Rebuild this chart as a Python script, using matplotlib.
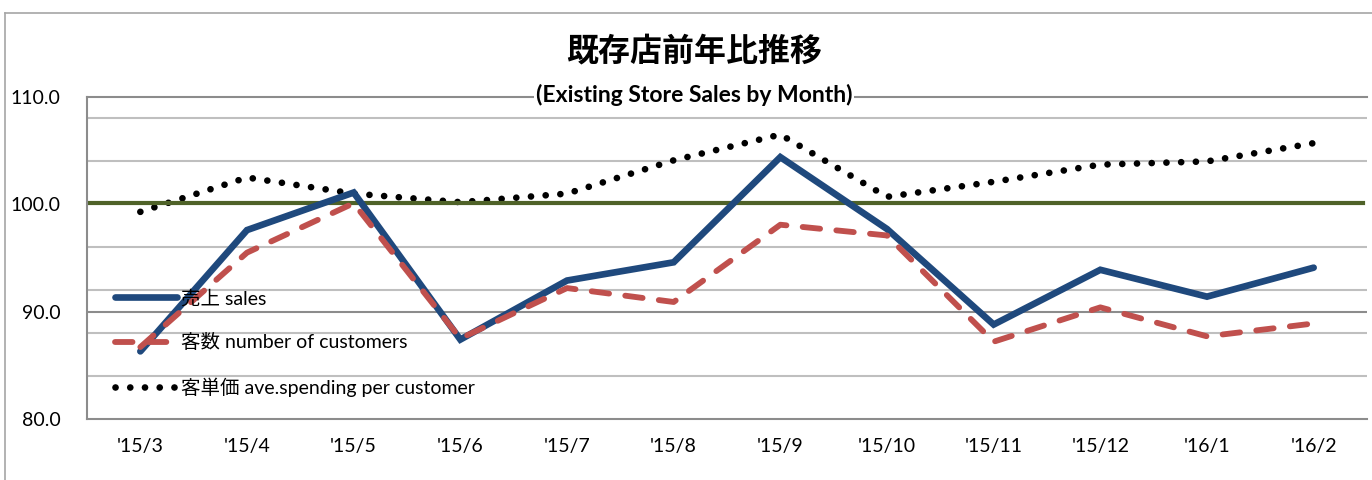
import matplotlib.pyplot as plt
from matplotlib.lines import Line2D

plt.rcParams['font.family'] = ['Lato', 'Noto Sans CJK JP', 'DejaVu Sans']

months = ["'15/3", "'15/4", "'15/5", "'15/6", "'15/7", "'15/8",
          "'15/9", "'15/10", "'15/11", "'15/12", "'16/1", "'16/2"]
sales = [86.3, 97.6, 101.1, 87.4, 92.9, 94.6, 104.4, 97.7, 88.8, 93.9, 91.4, 94.1]
customers = [86.7, 95.5, 100.1, 87.5, 92.2, 90.9, 98.1, 97.1, 87.2, 90.4, 87.7, 88.9]
spending = [99.3, 102.5, 101.0, 100.2, 101.0, 104.1, 106.5, 100.7, 102.1, 103.7, 104.0, 105.7]
baseline = 100.1
minor_grid = [84, 88, 92, 96, 104, 108]
y_ticks = [80, 90, 100, 110]

fig = plt.figure(figsize=(13.72, 4.8), dpi=100)
ax = fig.add_axes([87 / 1372, 61 / 480, 1280 / 1372, 322 / 480])
x = range(len(months))

for g in minor_grid:
    ax.axhline(g, color='#BFBFBF', lw=1.5, zorder=1)
ax.axhline(90, color='#8C8C8C', lw=1.5, zorder=1)

ax.plot(x, spending, color='black', lw=4.8, linestyle=(0, (0.01, 2.2)),
        dash_capstyle='round', zorder=2, label='客単価 ave.spending per customer')
ax.axhline(baseline, xmin=0.002, xmax=0.997, color='#4F6228', lw=3, zorder=2.5)
ax.plot(x, sales, color='#1F497D', lw=4.8, solid_capstyle='round',
        solid_joinstyle='miter', zorder=3, label='売上 sales')
ax.plot(x, customers, color='#C0504D', lw=4.2, linestyle=(0, (3.0, 2.8)),
        dash_capstyle='round', zorder=4, label='客数 number of customers')

ax.set_xlim(-0.5, len(months) - 0.5)
ax.set_ylim(80, 110)
ax.set_xticks(list(x))
ax.set_xticklabels(months, fontsize=14)
ax.set_yticks(y_ticks)
ax.set_yticklabels([f'{v:.1f}' for v in y_ticks], fontsize=14)
ax.tick_params(length=0)
ax.tick_params(axis='y', pad=19)
ax.tick_params(axis='x', pad=14)

for s in ['left', 'top', 'bottom']:
    ax.spines[s].set_color('#8C8C8C')
    ax.spines[s].set_linewidth(1.5)
ax.spines['right'].set_visible(False)

h, l = ax.get_legend_handles_labels()
order = [1, 2, 0]
ax.legend([h[i] for i in order], [l[i] for i in order], loc='upper left',
          bbox_to_anchor=(0.022, 0.402), frameon=False, fontsize=14,
          borderpad=0, borderaxespad=0,
          handlelength=3.2, handletextpad=0.2, labelspacing=1.35)

fig.text(694 / 1372, 1 - 50 / 480, '既存店前年比推移', ha='center', va='center',
         fontsize=23, fontweight='bold')
fig.text(694 / 1372, 1 - 95 / 480, '(Existing Store Sales by Month)', ha='center',
         va='center', fontsize=16.5, fontweight='bold',
         bbox=dict(facecolor='white', edgecolor='none', pad=1))

fig.add_artist(Line2D([5 / 1372, 5 / 1372], [0, 1 - 13 / 480], transform=fig.transFigure,
                      color='#A6A6A6', lw=1.2))
fig.add_artist(Line2D([5 / 1372, 1], [1 - 13 / 480, 1 - 13 / 480], transform=fig.transFigure,
                      color='#A6A6A6', lw=1.2))

fig.savefig('out.png', dpi=100)
